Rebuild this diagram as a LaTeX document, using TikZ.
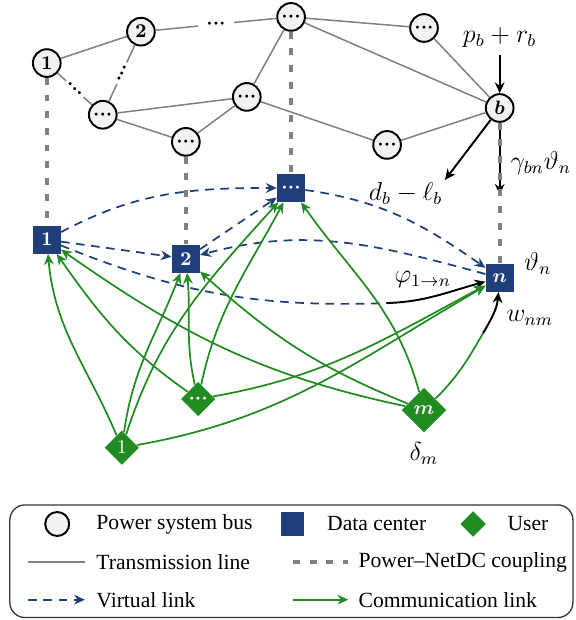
\documentclass[tikz,border=0pt]{standalone}
\usepackage[no-math]{fontspec}
\setmainfont{Liberation Serif}
\usepackage{amsmath,bm}
\usetikzlibrary{shapes.geometric,arrows.meta,positioning}

\definecolor{dcblue}{RGB}{31,63,122}
\definecolor{usergreen}{RGB}{34,139,34}

\newcommand{\bdots}{\ensuremath{{\bm{\cdot}}{\bm{\cdot}}{\bm{\cdot}}}}

\tikzset{
  bus/.style={circle, draw, line width=0.9pt, fill=gray!10, minimum size=0.45cm, inner sep=0pt, font=\small},
  dc/.style={rectangle, fill=dcblue, text=white, minimum size=0.45cm, inner sep=0pt, font=\small},
  user/.style={diamond, fill=usergreen, text=white, minimum size=0.56cm, inner sep=0pt, font=\small},
  tline/.style={draw=gray, line width=0.7pt},
  couple/.style={draw=gray, line width=1.9pt, dash pattern=on 3.2pt off 4.5pt},
  vdash/.style={draw=dcblue, line width=0.8pt, dash pattern=on 4pt off 3pt},
  vlink/.style={vdash, -{Stealth[length=5pt,width=4.5pt]}},
  cline/.style={draw=usergreen, line width=0.8pt},
  clink/.style={cline, -{Stealth[length=5pt,width=4.5pt]}},
  flow/.style={draw=black, line width=0.9pt, -{Stealth[length=5pt,width=4.5pt]}},
  gapdots/.style={fill=white, inner sep=1pt, font=\small},
  lbl/.style={font=\large},
  legtext/.style={anchor=west, inner sep=0pt}
}

\begin{document}
\begin{tikzpicture}
  \useasboundingbox (0,0) rectangle (9.36,10.075);

  % power system buses
  \node[bus] (bus1) at (0.76,9.05) {$\mathbf{1}$};
  \node[bus] (bus2) at (2.29,9.56) {$\mathbf{2}$};
  \node[bus] (busA) at (1.67,8.21) {\bdots};
  \node[bus] (busB) at (3.02,7.77) {\bdots};
  \node[bus] (busC) at (4.01,8.50) {\bdots};
  \node[bus] (busD) at (4.73,9.80) {\bdots};
  \node[bus] (busE) at (6.89,9.62) {\bdots};
  \node[bus] (busF) at (6.29,7.72) {\bdots};
  \node[bus] (busb) at (8.12,8.32) {$\bm{b}$};

  % data centers
  \node[dc] (dc1) at (0.76,6.18) {$\mathbf{1}$};
  \node[dc] (dc2) at (3.02,5.87) {$\mathbf{2}$};
  \node[dc] (dcx) at (4.73,7.02) {\bdots};
  \node[dc] (dcn) at (8.12,5.56) {$\bm{n}$};

  % users
  \node[user] (u1) at (1.98,2.80) {$1$};
  \node[user] (ux) at (3.22,3.59) {\bdots};
  \node[user, minimum size=0.73cm] (um) at (6.89,3.41) {$\bm{m}$};

  % helper points
  \coordinate (prtop) at (8.12,9.18);
  \coordinate (dtip) at (7.23,7.15);
  \coordinate (gtip) at (8.12,6.91);
  \coordinate (phi) at (6.29,5.15);
  \coordinate (w) at (7.85,4.66);

  % transmission lines
  \draw[tline] (bus1) -- (bus2);
  \draw[tline] (bus2) -- node[gapdots, inner sep=4pt] {\bdots} (busD);
  \draw[tline] (bus1) -- node[gapdots, sloped] {\bdots} (busA);
  \draw[tline] (bus2) -- node[gapdots, sloped] {\bdots} (busA);
  \draw[tline] (busA) -- (busC);
  \draw[tline] (busA) -- (busB);
  \draw[tline] (busB) -- (busC);
  \draw[tline] (busC) -- (busD);
  \draw[tline] (busC) -- (busF);
  \draw[tline] (busD) -- (busE);
  \draw[tline] (busD) -- (busb);
  \draw[tline] (busE) -- (busb);
  \draw[tline] (busF) -- (busb);

  % injections at bus b
  \draw[flow] (prtop) -- (busb);
  \draw[flow] (busb) -- (dtip);
  \draw[flow] (busb) -- (gtip);

  % power--NetDC coupling
  \draw[couple] (bus1) -- (dc1);
  \draw[couple] (busB) -- (dc2);
  \draw[couple] (busD) -- (dcx);
  \draw[couple] (busb) -- (dcn);

  % virtual links
  \draw[vlink] (dc1) to[out=28, in=180] (dcx);
  \draw[vlink] (dc1) -- (dc2);
  \draw[vdash] (dc1) to[out=-22, in=182] (phi);
  \draw[flow] (phi) to[out=2, in=195] (dcn);
  \draw[vlink] (dcx) to[out=-8, in=145] (dcn);
  \draw[vlink] (dcn) to[out=165, in=15] (dc2);
  \draw[vlink] (dc2) -- (dcx);

  % communication links
  \draw[clink] (u1) to[out=113, in=-85] (dc1);
  \draw[clink] (u1) to[out=82, in=-111] (dc2);
  \draw[clink] (u1) to[out=72, in=-132] (dcx);
  \draw[clink] (u1) to[out=10, in=-150] (dcn);
  \draw[clink] (ux) to[out=145, in=-55] (dc1);
  \draw[clink] (ux) to[out=103, in=-85] (dc2);
  \draw[clink] (ux) to[out=78, in=-118] (dcx);
  \draw[clink] (ux) to[out=10, in=-152] (dcn);
  \draw[clink] (um) to[out=168, in=-35] (dc1);
  \draw[clink] (um) to[out=158, in=-42] (dc2);
  \draw[clink] (um) to[out=105, in=-55] (dcx);
  \draw[cline] (um) to[out=45, in=-120] (w);
  \draw[flow] (w) to[out=60, in=-95] (dcn);

  % labels
  \node[lbl] (lpr) at (8.12,9.47) {$p_b + r_b$};
  \node[lbl, anchor=north east, inner sep=1pt] (ld) at (dtip) {$d_b - \ell_b$};
  \node[lbl, anchor=west, inner sep=0pt] (lg) at (8.29,7.43) {$\gamma_{bn}\vartheta_n$};
  \node[lbl] (lth) at (8.74,5.79) {$\vartheta_n$};
  \node[lbl] (lphi) at (6.87,5.53) {$\varphi_{1\to n}$};
  \node[lbl] (lw) at (8.61,4.91) {$w_{nm}$};
  \node[lbl, below=1pt of um] (ldel) {$\delta_m$};

  % legend
  \draw[draw=black!80, line width=0.6pt, rounded corners=7pt] (0.16,0.04) rectangle (9.31,1.87);
  \node[bus, minimum size=0.39cm] (lgbus) at (0.93,1.56) {};
  \node[legtext] at (1.56,1.56) {Power system bus};
  \node[dc, minimum size=0.38cm] (lgdc) at (4.75,1.56) {};
  \node[legtext] at (5.31,1.56) {Data center};
  \node[user, minimum size=0.42cm] (lguser) at (7.69,1.56) {};
  \node[legtext] at (8.24,1.56) {User};
  \draw[tline] (0.46,0.94) -- (1.38,0.94);
  \node[legtext] at (1.56,0.94) {Transmission line};
  \draw[couple] (4.76,0.94) -- (5.66,0.94);
  \node[legtext] at (5.82,0.94) {Power--NetDC coupling};
  \draw[vlink] (0.46,0.33) -- (1.38,0.33);
  \node[legtext] at (1.56,0.33) {Virtual link};
  \draw[clink] (4.76,0.33) -- (5.66,0.33);
  \node[legtext] at (5.82,0.33) {Communication link};
\end{tikzpicture}
\end{document}
